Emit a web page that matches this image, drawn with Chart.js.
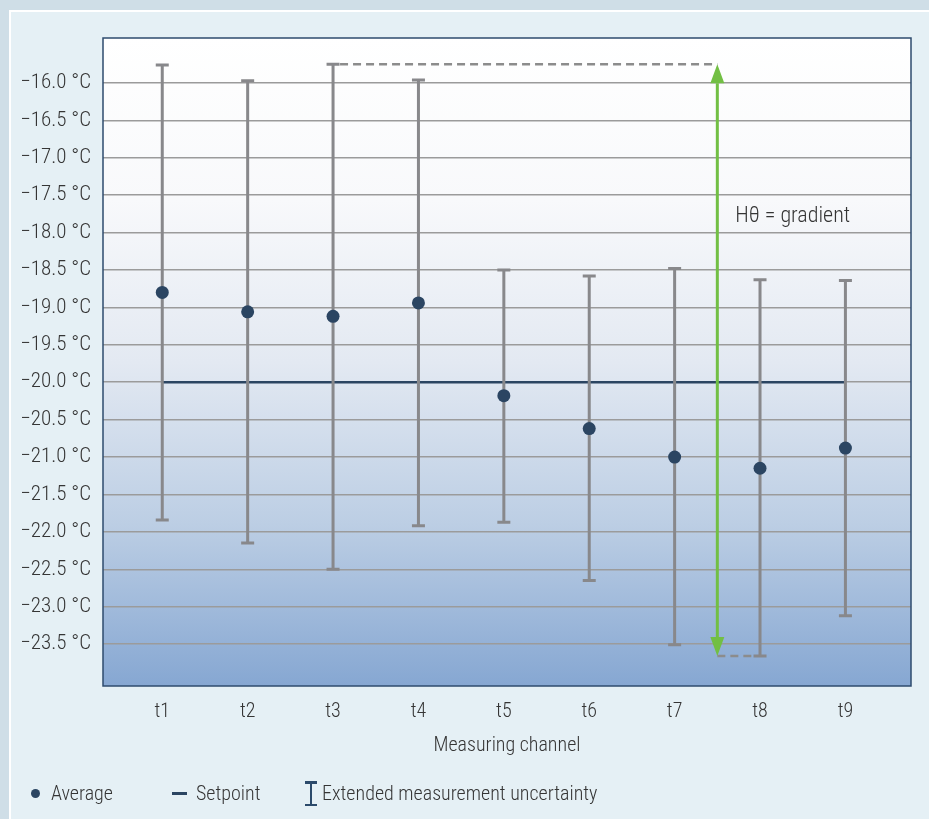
<!DOCTYPE html>
<html>
<head>
<meta charset="utf-8">
<script src="https://cdn.jsdelivr.net/npm/chart.js@4.4.1/dist/chart.umd.min.js"></script>
<style>
  html, body { margin: 0; padding: 0; }
  body {
    width: 929px; height: 819px; position: relative; overflow: hidden;
    background: #cfdee7;
    font-family: 'Roboto Condensed', 'Liberation Sans', sans-serif;
    font-weight: 300;
    color: #353535;
  }
  #panel {
    position: absolute; left: 9px; top: 10px; right: 0; bottom: 0;
    background: #e5f0f5;
    border-left: 2px solid #fff; border-top: 2px solid #fff;
  }
  #myChart { position: absolute; left: 0; top: 0; }
  .lg { position: absolute; top: 780px; height: 26px; line-height: 26px; font-size: 20px; white-space: nowrap; }
  .dot { position: absolute; left: 30.5px; top: 788.5px; width: 9px; height: 9px; border-radius: 50%; background: #2b4562; }
  .dash { position: absolute; left: 172px; top: 791.5px; width: 15px; height: 3px; background: #2b4562; }
  .ibar { position: absolute; left: 309.5px; top: 781px; width: 2.5px; height: 25px; background: #2b4a6b; }
  .icap { position: absolute; left: 305px; width: 12px; height: 2.5px; background: #2b4a6b; }
</style>
</head>
<body>
<div id="panel"></div>
<canvas id="myChart" width="929" height="819"></canvas>

<div class="dot"></div><div class="lg" style="left:51px">Average</div>
<div class="dash"></div><div class="lg" style="left:196px">Setpoint</div>
<div class="ibar"></div><div class="icap" style="top:781px"></div><div class="icap" style="top:803.5px"></div>
<div class="lg" style="left:322px">Extended measurement uncertainty</div>

<script>
// data
const channels = ['t1', 't2', 't3', 't4', 't5', 't6', 't7', 't8', 't9'];
const average = [-18.80, -19.06, -19.12, -18.94, -20.18, -20.62, -21.00, -21.15, -20.88];
const upper = [-15.76, -15.97, -15.75, -15.96, -18.50, -18.58, -18.48, -18.63, -18.64];
const lower = [-21.84, -22.15, -22.50, -21.92, -21.87, -22.65, -23.51, -23.66, -23.12];
const setpoint = -20.0;
const yTicks = [-16.0, -16.5, -17.0, -17.5, -18.0, -18.5, -19.0, -19.5, -20.0, -20.5, -21.0, -21.5, -22.0, -22.5, -23.0, -23.5];
const gradientAt = 7.5;
const gradientLabel = 'H\u03b8 = gradient';

const navy = '#2b4562';
const barGrey = '#88888b';
const green = '#72bf44';
const font = "'Roboto Condensed', 'Liberation Sans', sans-serif";

Chart.defaults.font.family = font;
Chart.defaults.font.size = 20;
Chart.defaults.font.weight = '300';
Chart.defaults.color = '#353535';

const hiIdx = upper.indexOf(Math.max(...upper));
const loIdx = lower.indexOf(Math.min(...lower));

const extras = {
  id: 'extras',
  beforeDraw(chart) {
    const {ctx, chartArea: a} = chart;
    const g = ctx.createLinearGradient(0, a.top, 0, a.bottom);
    g.addColorStop(0, '#ffffff');
    g.addColorStop(0.25, '#f8f9fb');
    g.addColorStop(0.5, '#e3e9f2');
    g.addColorStop(0.75, '#bccee4');
    g.addColorStop(1, '#86a7d2');
    ctx.save();
    ctx.fillStyle = g;
    ctx.fillRect(a.left, a.top, a.right - a.left, a.bottom - a.top);
    ctx.restore();
  },
  beforeDatasetDraw(chart, args) {
    if (args.index !== 0) return;
    const {ctx} = chart;
    const xs = chart.scales.x, ys = chart.scales.y;
    ctx.save();
    // error bars
    ctx.strokeStyle = barGrey;
    ctx.lineWidth = 3;
    channels.forEach((c, i) => {
      const x = xs.getPixelForValue(i + 1);
      const yt = ys.getPixelForValue(upper[i]);
      const yb = ys.getPixelForValue(lower[i]);
      ctx.beginPath();
      ctx.moveTo(x, yt); ctx.lineTo(x, yb);
      ctx.moveTo(x - 6.5, yt); ctx.lineTo(x + 6.5, yt);
      ctx.moveTo(x - 6.5, yb); ctx.lineTo(x + 6.5, yb);
      ctx.stroke();
    });
    // dashed extents
    const ax = xs.getPixelForValue(gradientAt);
    const yTop = ys.getPixelForValue(upper[hiIdx]);
    const yBot = ys.getPixelForValue(lower[loIdx]);
    ctx.setLineDash([8, 5]);
    ctx.lineWidth = 2.5;
    ctx.strokeStyle = '#8c8c8c';
    ctx.beginPath();
    ctx.moveTo(xs.getPixelForValue(hiIdx + 1) + 7, yTop); ctx.lineTo(ax, yTop);
    ctx.moveTo(ax, yBot); ctx.lineTo(xs.getPixelForValue(loIdx + 1) - 7, yBot);
    ctx.stroke();
    ctx.setLineDash([]);
    // arrow
    const head = 19, hw = 7;
    ctx.strokeStyle = green;
    ctx.fillStyle = green;
    ctx.lineWidth = 3;
    ctx.beginPath();
    ctx.moveTo(ax, yTop + head); ctx.lineTo(ax, yBot - head);
    ctx.stroke();
    ctx.beginPath();
    ctx.moveTo(ax, yTop); ctx.lineTo(ax - hw, yTop + head); ctx.lineTo(ax + hw, yTop + head); ctx.closePath();
    ctx.moveTo(ax, yBot); ctx.lineTo(ax - hw, yBot - head); ctx.lineTo(ax + hw, yBot - head); ctx.closePath();
    ctx.fill();
    // label
    ctx.fillStyle = '#353535';
    ctx.font = '300 22px ' + font;
    ctx.textBaseline = 'middle';
    ctx.fillText(gradientLabel, ax + 18, ys.getPixelForValue(-17.79));
    ctx.restore();
  },
  afterDraw(chart) {
    const {ctx, chartArea: a} = chart;
    ctx.save();
    ctx.strokeStyle = '#2e4b6e';
    ctx.lineWidth = 1.5;
    ctx.strokeRect(a.left, a.top, a.right - a.left, a.bottom - a.top);
    ctx.restore();
  }
};

let myChart = document.getElementById('myChart').getContext('2d');
let newChart = new Chart(myChart, {
  type: 'scatter',
  data: {
    datasets: [{
      label: 'Average',
      data: average.map((v, i) => ({x: i + 1, y: v})),
      pointRadius: 6.5,
      pointBackgroundColor: navy,
      pointBorderWidth: 0
    }, {
      type: 'line',
      label: 'Setpoint',
      data: [{x: 1, y: setpoint}, {x: channels.length, y: setpoint}],
      borderColor: navy,
      borderWidth: 2.5,
      pointRadius: 0
    }]
  },
  options: {
    responsive: false,
    animation: false,
    devicePixelRatio: 1,
    layout: {padding: {top: 38, right: 18, left: 0, bottom: 61}},
    plugins: {legend: {display: false}, tooltip: {enabled: false}},
    scales: {
      x: {
        type: 'linear',
        min: 0.306,
        max: 9.768,
        afterBuildTicks: axis => { axis.ticks = channels.map((c, i) => ({value: i + 1})); },
        afterFit: axis => { axis.height = 72; },
        ticks: {padding: 6, callback: v => channels[v - 1]},
        grid: {display: false},
        border: {display: false},
        title: {display: true, text: 'Measuring channel', padding: {top: 10, bottom: 0}}
      },
      y: {
        min: -24.06,
        max: -15.4,
        afterBuildTicks: axis => { axis.ticks = yTicks.map(v => ({value: v})); },
        afterFit: axis => { axis.width = 103; },
        ticks: {padding: 12, font: {size: 21}, callback: v => '\u2212' + Math.abs(v).toFixed(1) + ' \u00b0C'},
        grid: {color: '#9b9b9b', lineWidth: 1.5, drawTicks: false},
        border: {display: false}
      }
    }
  },
  plugins: [extras]
});
</script>
</body>
</html>
